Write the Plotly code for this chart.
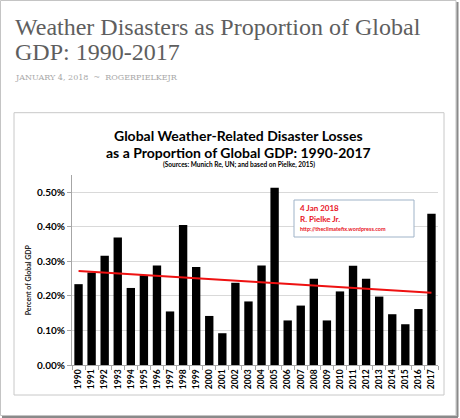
import plotly.graph_objects as go

years = [str(y) for y in range(1990, 2018)]
loss_share = [0.234, 0.268, 0.316, 0.369, 0.223, 0.260, 0.288, 0.155, 0.405, 0.284,
              0.142, 0.092, 0.238, 0.184, 0.288, 0.513, 0.129, 0.172, 0.250, 0.129,
              0.213, 0.287, 0.250, 0.198, 0.147, 0.118, 0.162, 0.438]
loss_share = [v / 100 for v in loss_share]
trend_years = ["1990", "2017"]
trend_share = [0.00272, 0.00209]
y_ticks = [0, 0.001, 0.002, 0.003, 0.004, 0.005]

W, H = 460, 418
L, R, T, B = 72, 22, 175, 53
PW, PH = W - L - R, H - T - B


# pixel -> paper coords
def X(px):
    return (px - L) / PW


def Y(py):
    return (H - B - py) / PH


fig = go.Figure()
fig.add_trace(go.Bar(x=years, y=loss_share, marker=dict(color="black", line=dict(width=0)),
                     hoverinfo="x+y"))
fig.add_trace(go.Scatter(x=trend_years, y=trend_share, mode="lines",
                         line=dict(color="#ee1111", width=2), hoverinfo="skip"))

shapes = [
    # page frame + shadow
    dict(type="rect", xref="paper", yref="paper", x0=X(0.5), y0=Y(0.5), x1=X(456), y1=Y(415.5),
         line=dict(color="#c4c4c4", width=1), layer="below"),
    dict(type="line", xref="paper", yref="paper", x0=X(457.5), y0=Y(2), x1=X(457.5), y1=Y(417),
         line=dict(color="#8a8a8a", width=2)),
    dict(type="line", xref="paper", yref="paper", x0=X(2), y0=Y(417), x1=X(458), y1=Y(417),
         line=dict(color="#8a8a8a", width=2)),
    # chart box
    dict(type="rect", xref="paper", yref="paper", x0=X(14), y0=Y(112.7), x1=X(444), y1=Y(395),
         line=dict(color="#c8c8c8", width=1), layer="below"),
    # credit box
    dict(type="rect", xref="paper", yref="paper", x0=X(294), y0=Y(200), x1=X(414), y1=Y(237),
         line=dict(color="#9fb3c8", width=1), fillcolor="white", layer="above"),
]

red = "#e8141e"
chart_font = "Lato"
page_font = "Liberation Serif"
annotations = [
    dict(text="Weather Disasters as Proportion of Global", x=X(13), y=Y(26.7),
         xanchor="left", font=dict(family=page_font, size=24, color="#5e5e5e")),
    dict(text="GDP: 1990-2017", x=X(13), y=Y(51.7),
         xanchor="left", font=dict(family=page_font, size=24, color="#5e5e5e")),
    dict(text="JANUARY 4, 2018  ~  ROGERPIELKEJR", x=X(13), y=Y(77.7),
         xanchor="left", font=dict(family="DejaVu Serif", size=8, color="#a8a8a8")),
    dict(text="<b>Global Weather-Related Disaster Losses</b>", x=X(238.5), y=Y(135),
         font=dict(family=chart_font, size=14, color="black")),
    dict(text="<b>as a Proportion of Global GDP: 1990-2017</b>", x=X(238.5), y=Y(152.7),
         font=dict(family=chart_font, size=14, color="black")),
    dict(text="<b>(Sources: Munich Re, UN; and based on Pielke, 2015)</b>", x=X(238.5), y=Y(164.5),
         font=dict(family=chart_font, size=6.5, color="black")),
    dict(text="<b>Percent of Global GDP</b>", x=X(28.3), y=Y(280), textangle=-90,
         font=dict(family=chart_font, size=7, color="#222222")),
    dict(text="<b>4 Jan 2018</b>", x=X(298), y=Y(208.3), xanchor="left",
         font=dict(family=chart_font, size=8, color=red)),
    dict(text="<b>R. Pielke Jr.</b>", x=X(298), y=Y(219.3), xanchor="left",
         font=dict(family=chart_font, size=8, color=red)),
    dict(text="<b>http://theclimatefix.wordpress.com</b>", x=X(298), y=Y(229), xanchor="left",
         font=dict(family=chart_font, size=5.5, color=red)),
]
for a in annotations:
    a.update(xref="paper", yref="paper", showarrow=False, yanchor="middle")
    a.setdefault("xanchor", "center")

fig.update_layout(
    width=W, height=H,
    margin=dict(l=L, r=R, t=T, b=B),
    paper_bgcolor="white", plot_bgcolor="white",
    showlegend=False, bargap=0.36,
    shapes=shapes, annotations=annotations,
    font=dict(family=chart_font, color="black"),
)
fig.update_xaxes(type="category", tickangle=-90, showgrid=False,
                 showline=True, linecolor="#a6a6a6", linewidth=1,
                 ticks="outside", tickson="boundaries", ticklen=4, tickcolor="#a6a6a6",
                 tickfont=dict(family=chart_font, size=8.5, color="black", weight="bold"))
fig.update_yaxes(range=[0, 0.0055], tickvals=y_ticks, tickformat=".2%",
                 showgrid=True, gridcolor="#d9d9d9", gridwidth=1,
                 showline=True, linecolor="#a6a6a6", linewidth=1, zeroline=False,
                 ticks="outside", ticklen=4, tickcolor="#a6a6a6",
                 tickfont=dict(family=chart_font, size=10, color="black", weight="bold"))

# page has a default body margin; drop it so the figure fills the window
fig.write_html("out.html", config={"displayModeBar": False},
               post_script="document.body.style.margin='0';")
